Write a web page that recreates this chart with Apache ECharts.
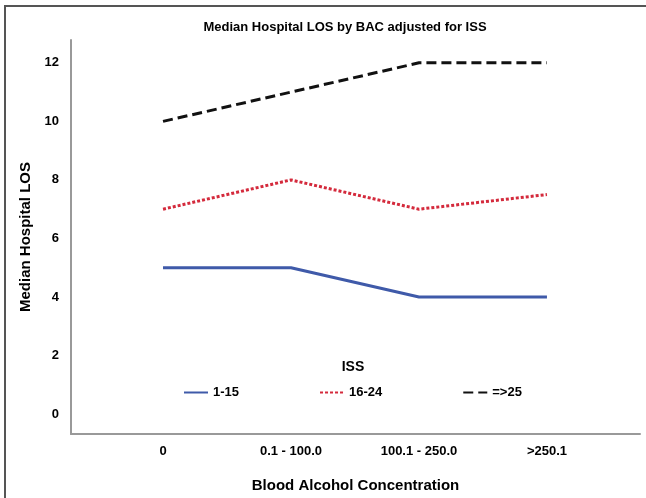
<!DOCTYPE html>
<html>
<head>
<meta charset="utf-8">
<script src="https://cdn.jsdelivr.net/npm/echarts@6/dist/echarts.min.js"></script>
<style>
  html, body { margin: 0; padding: 0; background: #fff; }
  #chart { width: 646px; height: 498px; }
</style>
</head>
<body>
<div id="chart"></div>
<script>
const categories = ['0', '0.1 - 100.0', '100.1 - 250.0', '>250.1'];
const iss1to15 = [5, 5, 4, 4];
const iss16to24 = [7, 8, 7, 7.5];
const iss25plus = [10, 11, 12, 12];
const yTicks = [0, 2, 4, 6, 8, 10, 12];

const font = 'Liberation Sans, Arial, sans-serif';

// x is a value axis over category indexes so the line ends sit where the original put them
const toPoints = arr => arr.map((v, i) => [i, v]);

const chart = echarts.init(document.getElementById('chart'));

const option = {
  animation: false,
  title: [
    {
      text: 'Median Hospital LOS by BAC adjusted for ISS',
      left: 340, top: 16, textAlign: 'center',
      textStyle: { fontFamily: font, fontSize: 13, fontWeight: 'bold', color: '#000' }
    },
    {
      text: 'ISS',
      left: 348, top: 355, textAlign: 'center',
      textStyle: { fontFamily: font, fontSize: 14, fontWeight: 'bold', color: '#000' }
    }
  ],
  legend: {
    left: 178, top: 381,
    itemWidth: 24, itemHeight: 10, itemGap: 80,
    itemStyle: { opacity: 0 },
    textStyle: { fontFamily: font, fontSize: 13, fontWeight: 'bold', color: '#000' },
    data: ['1-15', '16-24', '=>25']
  },
  grid: { left: 71, right: 6, top: 40, bottom: 61, containLabel: false },
  xAxis: {
    type: 'value',
    min: -0.719, max: 3.727,
    name: 'Blood Alcohol Concentration',
    nameLocation: 'middle', nameGap: 44,
    nameTextStyle: { fontFamily: font, fontSize: 15, fontWeight: 'bold', color: '#000' },
    axisLine: { show: true, onZero: false, lineStyle: { color: '#999', width: 2 } },
    axisTick: { show: false },
    splitLine: { show: false },
    axisLabel: {
      customValues: [0, 1, 2, 3],
      formatter: v => categories[Math.round(v)],
      margin: 11,
      fontFamily: font, fontSize: 13, fontWeight: 'bold', color: '#000'
    }
  },
  yAxis: {
    type: 'value',
    min: -0.68, max: 12.78,
    name: 'Median Hospital LOS',
    nameLocation: 'middle', nameGap: 36,
    nameTextStyle: { fontFamily: font, fontSize: 15, fontWeight: 'bold', color: '#000' },
    axisLine: { show: true, onZero: false, lineStyle: { color: '#999', width: 2 } },
    axisTick: { show: false },
    splitLine: { show: false },
    axisLabel: {
      customValues: yTicks,
      margin: 12,
      fontFamily: font, fontSize: 13, fontWeight: 'bold', color: '#000'
    }
  },
  series: [
    {
      name: '1-15', type: 'line', data: toPoints(iss1to15),
      symbol: 'none', color: '#3f5aa9',
      lineStyle: { color: '#3f5aa9', width: 3 }
    },
    {
      name: '16-24', type: 'line', data: toPoints(iss16to24),
      symbol: 'none', color: '#d42a3c',
      lineStyle: { color: '#d42a3c', width: 3, type: [3, 2] }
    },
    {
      name: '=>25', type: 'line', data: toPoints(iss25plus),
      symbol: 'none', color: '#111',
      lineStyle: { color: '#111', width: 3, type: [10, 5] }
    }
  ],
  graphic: [
    {
      type: 'polyline',
      shape: { points: [[5, 498], [5, 6], [646, 6]] },
      style: { stroke: '#555', lineWidth: 2, fill: null }
    }
  ]
};

chart.setOption(option);
</script>
</body>
</html>
